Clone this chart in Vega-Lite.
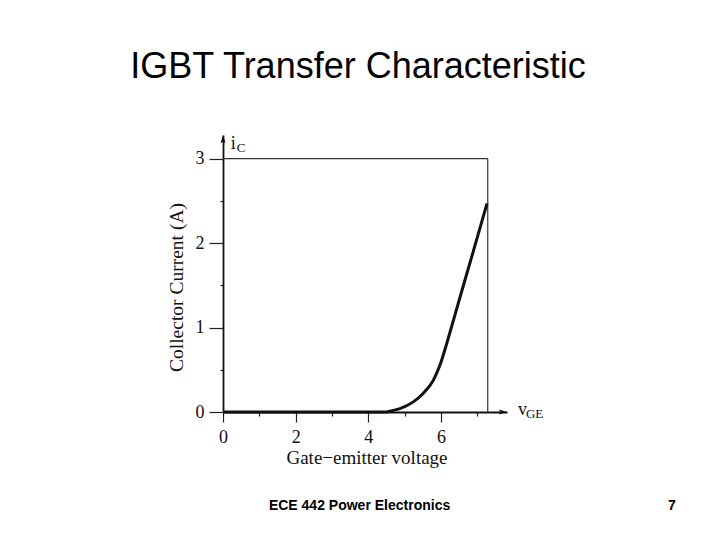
{
  "$schema": "https://vega.github.io/schema/vega-lite/v6.json",
  "width": 284,
  "height": 277,
  "autosize": {"type": "none"},
  "padding": {"left": 223, "top": 135, "right": 213, "bottom": 128},
  "background": "white",
  "config": {"view": {"stroke": null}, "axis": {"grid": false}},
  "title": {
    "text": "IGBT Transfer Characteristic",
    "font": "Liberation Sans",
    "fontSize": 36,
    "fontWeight": "normal",
    "color": "#000",
    "anchor": "middle",
    "frame": "group",
    "dx": -7,
    "offset": 21,
    "baseline": "alphabetic"
  },
  "resolve": {"axis": {"x": "independent", "y": "independent"}},
  "layer": [
    {
      "data": {"values": [{}]},
      "mark": {"type": "rule", "color": "#333", "strokeWidth": 1.2},
      "encoding": {
        "x": {"datum": 0, "type": "quantitative", "axis": null},
        "x2": {"datum": 7.29},
        "y": {"datum": 3, "type": "quantitative", "axis": null}
      }
    },
    {
      "data": {"values": [{}]},
      "mark": {"type": "rule", "color": "#333", "strokeWidth": 1.2},
      "encoding": {
        "x": {"datum": 7.29, "type": "quantitative",
          "axis": {"orient": "bottom", "values": [1, 3, 5, 7], "tickSize": 4, "tickWidth": 1.2, "tickColor": "#222", "labels": false, "domain": false, "title": null, "grid": false}},
        "y": {"datum": 0, "type": "quantitative",
          "axis": {"orient": "left", "values": [0.5, 1.5, 2.5], "tickSize": 3, "tickWidth": 1.2, "tickColor": "#222", "labels": false, "domain": false, "title": null, "grid": false}},
        "y2": {"datum": 3}
      }
    },
    {
      "data": {"values": [
        {"vGE": 0, "iC": 0},
        {"vGE": 4.45, "iC": 0},
        {"vGE": 4.6, "iC": 0.01},
        {"vGE": 4.87, "iC": 0.04},
        {"vGE": 5.24, "iC": 0.12},
        {"vGE": 5.51, "iC": 0.22},
        {"vGE": 5.79, "iC": 0.375},
        {"vGE": 5.97, "iC": 0.55},
        {"vGE": 6.16, "iC": 0.81},
        {"vGE": 6.34, "iC": 1.08},
        {"vGE": 6.52, "iC": 1.35},
        {"vGE": 6.89, "iC": 1.9},
        {"vGE": 7.27, "iC": 2.47}
      ]},
      "mark": {"type": "line", "interpolate": "monotone", "color": "#111", "strokeWidth": 3},
      "encoding": {
        "x": {"field": "vGE", "type": "quantitative",
          "scale": {"domain": [0, 7.82], "nice": false, "zero": false},
          "axis": {"orient": "bottom", "values": [0, 2, 4, 6], "tickSize": 10, "tickWidth": 1.2, "tickColor": "#222",
            "domainColor": "#111", "domainWidth": 1.8,
            "labelFont": "Liberation Serif", "labelFontSize": 18, "labelColor": "#111", "labelPadding": 6,
            "labelFlush": false, "labelOverlap": false, "labelBound": false,
            "title": "Gate−emitter voltage", "titleFont": "Liberation Serif", "titleFontSize": 19, "titleFontWeight": "normal",
            "titleColor": "#111", "titleX": 143.5, "titleY": 51, "titleBaseline": "alphabetic", "grid": false}},
        "y": {"field": "iC", "type": "quantitative",
          "scale": {"domain": [0, 3.28], "nice": false, "zero": false},
          "axis": {"orient": "left", "values": [0, 1, 2, 3], "tickSize": 14, "tickWidth": 1.2, "tickColor": "#222",
            "domainColor": "#111", "domainWidth": 1.8,
            "labelFont": "Liberation Serif", "labelFontSize": 18, "labelColor": "#111", "labelPadding": 5,
            "labelFlush": false, "labelOverlap": false, "labelBound": false,
            "title": "Collector Current (A)", "titleFont": "Liberation Serif", "titleFontSize": 19.5, "titleFontWeight": "normal",
            "titleColor": "#111", "titleX": -41, "titleY": 152, "titleBaseline": "alphabetic", "grid": false}}
      }
    },
    {
      "data": {"values": [{}]},
      "mark": {"type": "point", "filled": true, "color": "#111", "opacity": 1, "size": 100, "shape": "M0,-1L0.5,0.6L0,0.3L-0.5,0.6Z"},
      "encoding": {
        "x": {"datum": 0, "type": "quantitative", "axis": null},
        "y": {"datum": 3.217, "type": "quantitative", "axis": null}
      }
    },
    {
      "data": {"values": [{}]},
      "mark": {"type": "point", "filled": true, "color": "#111", "opacity": 1, "size": 100, "shape": "M1,0L-0.6,0.5L-0.3,0L-0.6,-0.5Z"},
      "encoding": {
        "x": {"datum": 7.68, "type": "quantitative", "axis": null},
        "y": {"datum": 0, "type": "quantitative", "axis": null}
      }
    },
    {
      "data": {"values": [{}]},
      "mark": {"type": "text", "font": "Liberation Serif", "fontSize": 18, "color": "#111", "align": "center", "baseline": "alphabetic"},
      "encoding": {
        "x": {"datum": 0.28, "type": "quantitative", "axis": null},
        "y": {"datum": 3.12, "type": "quantitative", "axis": null},
        "text": {"value": "i"}
      }
    },
    {
      "data": {"values": [{}]},
      "mark": {"type": "text", "font": "Liberation Serif", "fontSize": 13, "color": "#111", "align": "left", "baseline": "alphabetic"},
      "encoding": {
        "x": {"datum": 0.377, "type": "quantitative", "axis": null},
        "y": {"datum": 3.075, "type": "quantitative", "axis": null},
        "text": {"value": "C"}
      }
    },
    {
      "data": {"values": [{}]},
      "mark": {"type": "text", "font": "Liberation Serif", "fontSize": 18, "color": "#111", "align": "left", "baseline": "alphabetic"},
      "encoding": {
        "x": {"datum": 8.12, "type": "quantitative", "axis": null},
        "y": {"datum": -0.04, "type": "quantitative", "axis": null},
        "text": {"value": "v"}
      }
    },
    {
      "data": {"values": [{}]},
      "mark": {"type": "text", "font": "Liberation Serif", "fontSize": 13, "color": "#111", "align": "left", "baseline": "alphabetic"},
      "encoding": {
        "x": {"datum": 8.34, "type": "quantitative", "axis": null},
        "y": {"datum": -0.066, "type": "quantitative", "axis": null},
        "text": {"value": "GE"}
      }
    },
    {
      "data": {"values": [{}]},
      "mark": {"type": "text", "font": "Liberation Sans", "fontSize": 14, "fontWeight": "bold", "color": "#000", "align": "center", "baseline": "alphabetic"},
      "encoding": {
        "x": {"datum": 3.76, "type": "quantitative", "axis": null},
        "y": {"datum": -1.165, "type": "quantitative", "axis": null},
        "text": {"value": "ECE 442 Power Electronics"}
      }
    },
    {
      "data": {"values": [{}]},
      "mark": {"type": "text", "font": "Liberation Sans", "fontSize": 14, "fontWeight": "bold", "color": "#000", "align": "center", "baseline": "alphabetic"},
      "encoding": {
        "x": {"datum": 12.36, "type": "quantitative", "axis": null},
        "y": {"datum": -1.165, "type": "quantitative", "axis": null},
        "text": {"value": "7"}
      }
    }
  ]
}
